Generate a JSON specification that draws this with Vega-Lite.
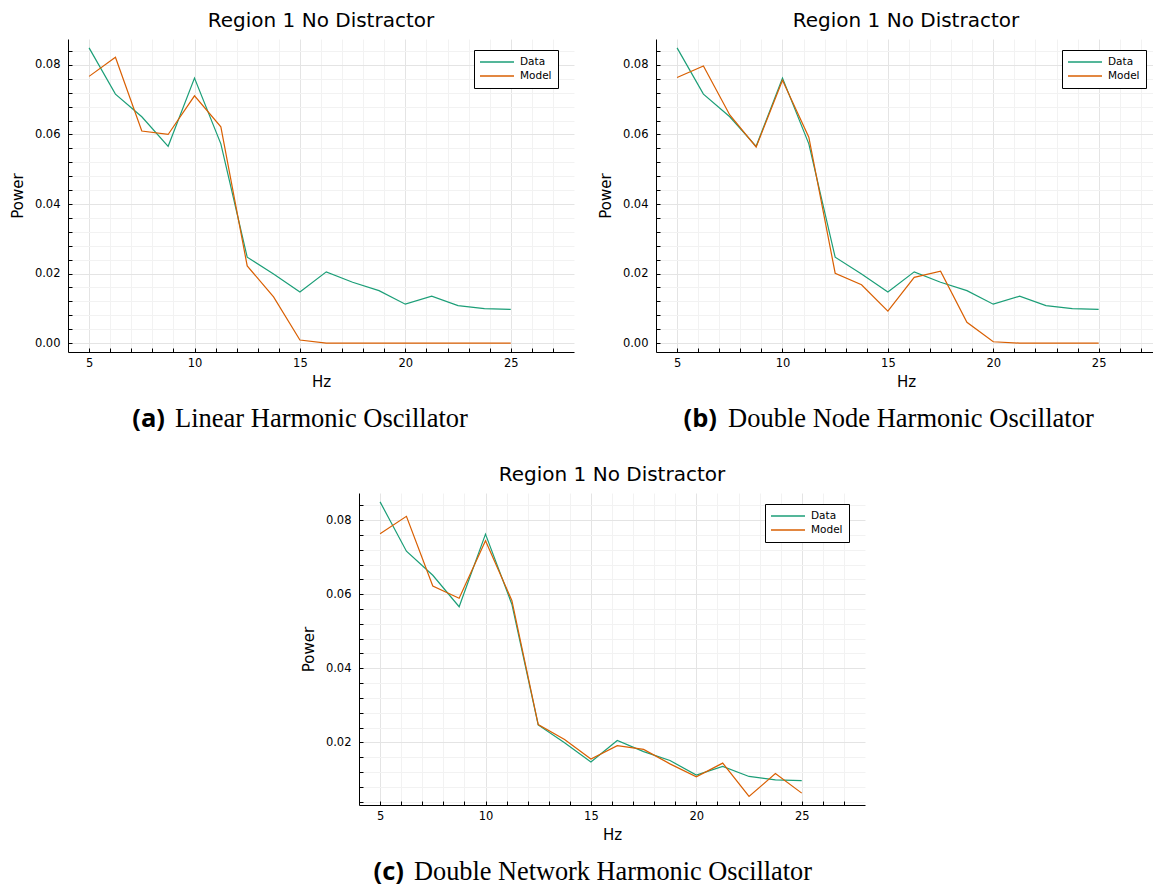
{
  "$schema": "https://vega.github.io/schema/vega-lite/v6.json",
  "padding": {"left": 10, "top": 11, "right": 0, "bottom": 0},
  "background": "white",
  "datasets": {
    "lho": [
      {"hz": 5, "series": "Data", "power": 0.0849},
      {"hz": 6.25, "series": "Data", "power": 0.0716},
      {"hz": 7.5, "series": "Data", "power": 0.0651},
      {"hz": 8.75, "series": "Data", "power": 0.0566},
      {"hz": 10, "series": "Data", "power": 0.0762},
      {"hz": 11.25, "series": "Data", "power": 0.0573},
      {"hz": 12.5, "series": "Data", "power": 0.0247},
      {"hz": 13.75, "series": "Data", "power": 0.0199},
      {"hz": 15, "series": "Data", "power": 0.0147},
      {"hz": 16.25, "series": "Data", "power": 0.0205},
      {"hz": 17.5, "series": "Data", "power": 0.0175},
      {"hz": 18.75, "series": "Data", "power": 0.0151},
      {"hz": 20, "series": "Data", "power": 0.0112},
      {"hz": 21.25, "series": "Data", "power": 0.0135},
      {"hz": 22.5, "series": "Data", "power": 0.0108},
      {"hz": 23.75, "series": "Data", "power": 0.0099},
      {"hz": 25, "series": "Data", "power": 0.0097},
      {"hz": 5, "series": "Model", "power": 0.0767},
      {"hz": 6.25, "series": "Model", "power": 0.0822},
      {"hz": 7.5, "series": "Model", "power": 0.0610},
      {"hz": 8.75, "series": "Model", "power": 0.0600},
      {"hz": 10, "series": "Model", "power": 0.0711},
      {"hz": 11.25, "series": "Model", "power": 0.0622},
      {"hz": 12.5, "series": "Model", "power": 0.0222},
      {"hz": 13.75, "series": "Model", "power": 0.0133},
      {"hz": 15, "series": "Model", "power": 0.0009},
      {"hz": 16.25, "series": "Model", "power": 0.0},
      {"hz": 17.5, "series": "Model", "power": 0.0},
      {"hz": 18.75, "series": "Model", "power": 0.0},
      {"hz": 20, "series": "Model", "power": 0.0},
      {"hz": 21.25, "series": "Model", "power": 0.0},
      {"hz": 22.5, "series": "Model", "power": 0.0},
      {"hz": 23.75, "series": "Model", "power": 0.0},
      {"hz": 25, "series": "Model", "power": 0.0}
    ],
    "dnho": [
      {"hz": 5, "series": "Data", "power": 0.0849},
      {"hz": 6.25, "series": "Data", "power": 0.0716},
      {"hz": 7.5, "series": "Data", "power": 0.0651},
      {"hz": 8.75, "series": "Data", "power": 0.0566},
      {"hz": 10, "series": "Data", "power": 0.0762},
      {"hz": 11.25, "series": "Data", "power": 0.0573},
      {"hz": 12.5, "series": "Data", "power": 0.0247},
      {"hz": 13.75, "series": "Data", "power": 0.0199},
      {"hz": 15, "series": "Data", "power": 0.0147},
      {"hz": 16.25, "series": "Data", "power": 0.0205},
      {"hz": 17.5, "series": "Data", "power": 0.0175},
      {"hz": 18.75, "series": "Data", "power": 0.0151},
      {"hz": 20, "series": "Data", "power": 0.0112},
      {"hz": 21.25, "series": "Data", "power": 0.0135},
      {"hz": 22.5, "series": "Data", "power": 0.0108},
      {"hz": 23.75, "series": "Data", "power": 0.0099},
      {"hz": 25, "series": "Data", "power": 0.0097},
      {"hz": 5, "series": "Model", "power": 0.0764},
      {"hz": 6.25, "series": "Model", "power": 0.0797},
      {"hz": 7.5, "series": "Model", "power": 0.0656},
      {"hz": 8.75, "series": "Model", "power": 0.0564},
      {"hz": 10, "series": "Model", "power": 0.0756},
      {"hz": 11.25, "series": "Model", "power": 0.0592},
      {"hz": 12.5, "series": "Model", "power": 0.0201},
      {"hz": 13.75, "series": "Model", "power": 0.0168},
      {"hz": 15, "series": "Model", "power": 0.0092},
      {"hz": 16.25, "series": "Model", "power": 0.0189},
      {"hz": 17.5, "series": "Model", "power": 0.0207},
      {"hz": 18.75, "series": "Model", "power": 0.0060},
      {"hz": 20, "series": "Model", "power": 0.0004},
      {"hz": 21.25, "series": "Model", "power": 0.0},
      {"hz": 22.5, "series": "Model", "power": 0.0},
      {"hz": 23.75, "series": "Model", "power": 0.0},
      {"hz": 25, "series": "Model", "power": 0.0}
    ],
    "dnwho": [
      {"hz": 5, "series": "Data", "power": 0.0849},
      {"hz": 6.25, "series": "Data", "power": 0.0716},
      {"hz": 7.5, "series": "Data", "power": 0.0651},
      {"hz": 8.75, "series": "Data", "power": 0.0566},
      {"hz": 10, "series": "Data", "power": 0.0762},
      {"hz": 11.25, "series": "Data", "power": 0.0573},
      {"hz": 12.5, "series": "Data", "power": 0.0247},
      {"hz": 13.75, "series": "Data", "power": 0.0199},
      {"hz": 15, "series": "Data", "power": 0.0147},
      {"hz": 16.25, "series": "Data", "power": 0.0205},
      {"hz": 17.5, "series": "Data", "power": 0.0175},
      {"hz": 18.75, "series": "Data", "power": 0.0151},
      {"hz": 20, "series": "Data", "power": 0.0112},
      {"hz": 21.25, "series": "Data", "power": 0.0135},
      {"hz": 22.5, "series": "Data", "power": 0.0108},
      {"hz": 23.75, "series": "Data", "power": 0.0099},
      {"hz": 25, "series": "Data", "power": 0.0097},
      {"hz": 5, "series": "Model", "power": 0.0763},
      {"hz": 6.25, "series": "Model", "power": 0.0810},
      {"hz": 7.5, "series": "Model", "power": 0.0622},
      {"hz": 8.75, "series": "Model", "power": 0.0589},
      {"hz": 10, "series": "Model", "power": 0.0744},
      {"hz": 11.25, "series": "Model", "power": 0.0583},
      {"hz": 12.5, "series": "Model", "power": 0.0248},
      {"hz": 13.75, "series": "Model", "power": 0.0208},
      {"hz": 15, "series": "Model", "power": 0.0155},
      {"hz": 16.25, "series": "Model", "power": 0.0191},
      {"hz": 17.5, "series": "Model", "power": 0.0181},
      {"hz": 18.75, "series": "Model", "power": 0.0142},
      {"hz": 20, "series": "Model", "power": 0.0107},
      {"hz": 21.25, "series": "Model", "power": 0.0144},
      {"hz": 22.5, "series": "Model", "power": 0.0054},
      {"hz": 23.75, "series": "Model", "power": 0.0116},
      {"hz": 25, "series": "Model", "power": 0.0063}
    ],
    "cap_a": [{"tag": "(a)", "name": "Linear Harmonic Oscillator"}],
    "cap_b": [{"tag": "(b)", "name": "Double Node Harmonic Oscillator"}],
    "cap_c": [{"tag": "(c)", "name": "Double Network Harmonic Oscillator"}]
  },
  "spacing": 31,
  "center": true,
  "resolve": {"scale": {"color": "independent"}, "legend": {"color": "independent"}},
  "vconcat": [
    {
      "spacing": 24,
      "resolve": {"scale": {"color": "independent"}, "legend": {"color": "independent"}},
      "hconcat": [
        {
          "spacing": 14,
          "resolve": {"scale": {"color": "independent"}, "legend": {"color": "independent"}},
          "vconcat": [
            {
              "width": 506,
              "height": 313,
              "title": "Region 1 No Distractor",
              "data": {"name": "lho"},
              "mark": {"type": "line", "strokeWidth": 1.2, "clip": true},
              "encoding": {
                "x": {"field": "hz", "type": "quantitative", "title": "Hz",
                  "scale": {"domain": [4, 28], "nice": false, "zero": false},
                  "axis": {"values": [5, 6, 7, 8, 9, 10, 11, 12, 13, 14, 15, 16, 17, 18, 19, 20, 21, 22, 23, 24, 25, 26, 27],
                    "labelExpr": "datum.value % 5 === 0 ? datum.label : ''",
                    "gridColor": {"condition": {"test": "datum.value % 5 === 0", "value": "#e4e4e4"}, "value": "#f2f2f2"}}},
                "y": {"field": "power", "type": "quantitative", "title": "Power",
                  "scale": {"domain": [-0.00255, 0.08745], "nice": false, "zero": false},
                  "axis": {"values": [0, 0.004, 0.008, 0.012, 0.016, 0.02, 0.024, 0.028, 0.032, 0.036, 0.04, 0.044, 0.048, 0.052, 0.056, 0.06, 0.064, 0.068, 0.072, 0.076, 0.08, 0.084],
                    "labelExpr": "abs(datum.value * 50 - round(datum.value * 50)) < 1e-6 ? format(datum.value, '.2f') : ''",
                    "gridColor": {"condition": {"test": "abs(datum.value * 50 - round(datum.value * 50)) < 1e-6", "value": "#e4e4e4"}, "value": "#f2f2f2"}}},
                "color": {"field": "series", "type": "nominal",
                  "scale": {"domain": ["Data", "Model"], "range": ["#1b9e77", "#d95f02"]},
                  "legend": {"orient": "none", "legendX": 406, "legendY": 11}}
              }
            },
            {
              "width": 506,
              "height": 30,
              "data": {"name": "cap_a"},
              "layer": [
                {"mark": {"type": "text", "font": "Open Sans", "fontWeight": "bold", "fontSize": 25.5, "align": "right", "baseline": "middle", "dx": -156, "color": "#000"},
                 "encoding": {"text": {"field": "tag"}}},
                {"mark": {"type": "text", "font": "Liberation Serif", "fontSize": 26.5, "align": "left", "baseline": "middle", "dx": -146, "color": "#000"},
                 "encoding": {"text": {"field": "name"}}}
              ]
            }
          ]
        },
        {
          "spacing": 14,
          "resolve": {"scale": {"color": "independent"}, "legend": {"color": "independent"}},
          "vconcat": [
            {
              "width": 500,
              "height": 313,
              "title": "Region 1 No Distractor",
              "data": {"name": "dnho"},
              "mark": {"type": "line", "strokeWidth": 1.2, "clip": true},
              "encoding": {
                "x": {"field": "hz", "type": "quantitative", "title": "Hz",
                  "scale": {"domain": [4, 27.72], "nice": false, "zero": false},
                  "axis": {"values": [5, 6, 7, 8, 9, 10, 11, 12, 13, 14, 15, 16, 17, 18, 19, 20, 21, 22, 23, 24, 25, 26, 27],
                    "labelExpr": "datum.value % 5 === 0 ? datum.label : ''",
                    "gridColor": {"condition": {"test": "datum.value % 5 === 0", "value": "#e4e4e4"}, "value": "#f2f2f2"}}},
                "y": {"field": "power", "type": "quantitative", "title": "Power",
                  "scale": {"domain": [-0.00255, 0.08745], "nice": false, "zero": false},
                  "axis": {"values": [0, 0.004, 0.008, 0.012, 0.016, 0.02, 0.024, 0.028, 0.032, 0.036, 0.04, 0.044, 0.048, 0.052, 0.056, 0.06, 0.064, 0.068, 0.072, 0.076, 0.08, 0.084],
                    "labelExpr": "abs(datum.value * 50 - round(datum.value * 50)) < 1e-6 ? format(datum.value, '.2f') : ''",
                    "gridColor": {"condition": {"test": "abs(datum.value * 50 - round(datum.value * 50)) < 1e-6", "value": "#e4e4e4"}, "value": "#f2f2f2"}}},
                "color": {"field": "series", "type": "nominal",
                  "scale": {"domain": ["Data", "Model"], "range": ["#1b9e77", "#d95f02"]},
                  "legend": {"orient": "none", "legendX": 406, "legendY": 11}}
              }
            },
            {
              "width": 500,
              "height": 30,
              "data": {"name": "cap_b"},
              "layer": [
                {"mark": {"type": "text", "font": "Open Sans", "fontWeight": "bold", "fontSize": 25.5, "align": "right", "baseline": "middle", "dx": -189, "color": "#000"},
                 "encoding": {"text": {"field": "tag"}}},
                {"mark": {"type": "text", "font": "Liberation Serif", "fontSize": 26.5, "align": "left", "baseline": "middle", "dx": -178, "color": "#000"},
                 "encoding": {"text": {"field": "name"}}}
              ]
            }
          ]
        }
      ]
    },
    {
      "spacing": 15,
      "resolve": {"scale": {"color": "independent"}, "legend": {"color": "independent"}},
      "vconcat": [
        {
          "width": 506,
          "height": 312,
          "title": "Region 1 No Distractor",
          "data": {"name": "dnwho"},
          "mark": {"type": "line", "strokeWidth": 1.2, "clip": true},
          "encoding": {
            "x": {"field": "hz", "type": "quantitative", "title": "Hz",
              "scale": {"domain": [4, 28], "nice": false, "zero": false},
              "axis": {"values": [5, 6, 7, 8, 9, 10, 11, 12, 13, 14, 15, 16, 17, 18, 19, 20, 21, 22, 23, 24, 25, 26, 27],
                "labelExpr": "datum.value % 5 === 0 ? datum.label : ''",
                "gridColor": {"condition": {"test": "datum.value % 5 === 0", "value": "#e4e4e4"}, "value": "#f2f2f2"}}},
            "y": {"field": "power", "type": "quantitative", "title": "Power",
              "scale": {"domain": [0.0031, 0.0873], "nice": false, "zero": false},
              "axis": {"values": [0.004, 0.008, 0.012, 0.016, 0.02, 0.024, 0.028, 0.032, 0.036, 0.04, 0.044, 0.048, 0.052, 0.056, 0.06, 0.064, 0.068, 0.072, 0.076, 0.08, 0.084],
                "labelExpr": "abs(datum.value * 50 - round(datum.value * 50)) < 1e-6 ? format(datum.value, '.2f') : ''",
                "gridColor": {"condition": {"test": "abs(datum.value * 50 - round(datum.value * 50)) < 1e-6", "value": "#e4e4e4"}, "value": "#f2f2f2"}}},
            "color": {"field": "series", "type": "nominal",
              "scale": {"domain": ["Data", "Model"], "range": ["#1b9e77", "#d95f02"]},
              "legend": {"orient": "none", "legendX": 406, "legendY": 11}}
          }
        },
        {
          "width": 506,
          "height": 28,
          "data": {"name": "cap_c"},
          "layer": [
            {"mark": {"type": "text", "font": "Open Sans", "fontWeight": "bold", "fontSize": 25.5, "align": "right", "baseline": "middle", "dx": -208, "color": "#000"},
             "encoding": {"text": {"field": "tag"}}},
            {"mark": {"type": "text", "font": "Liberation Serif", "fontSize": 26.3, "align": "left", "baseline": "middle", "dx": -198, "color": "#000"},
             "encoding": {"text": {"field": "name"}}}
          ]
        }
      ]
    }
  ],
  "config": {
    "view": {"stroke": null},
    "font": "DejaVu Sans",
    "axis": {
      "domainColor": "#000000", "domainWidth": 1,
      "tickColor": "#000000", "tickSize": -4, "tickWidth": 1,
      "labelFont": "DejaVu Sans", "labelFontSize": 11.5, "labelColor": "#000000",
      "titleFont": "DejaVu Sans", "titleFontSize": 15, "titleFontWeight": "normal", "titleColor": "#000000",
      "grid": true, "gridWidth": 1
    },
    "axisX": {"labelPadding": 9, "titlePadding": 6, "labelFlush": false},
    "axisY": {"labelPadding": 12, "titlePadding": 9},
    "title": {"font": "DejaVu Sans", "fontSize": 20, "fontWeight": "normal", "color": "#000000", "frame": "group", "anchor": "middle", "offset": 8},
    "legend": {
      "title": null,
      "strokeColor": "#000000", "strokeWidth": 1, "fillColor": "#ffffff", "cornerRadius": 0,
      "padding": 6, "rowPadding": 2,
      "labelFont": "DejaVu Sans", "labelFontSize": 10.5, "labelColor": "#000000", "labelOffset": 17,
      "symbolType": "M-3.4,0H3.4", "symbolSize": 100, "symbolStrokeWidth": 1.5, "symbolOffset": 11
    }
  }
}
